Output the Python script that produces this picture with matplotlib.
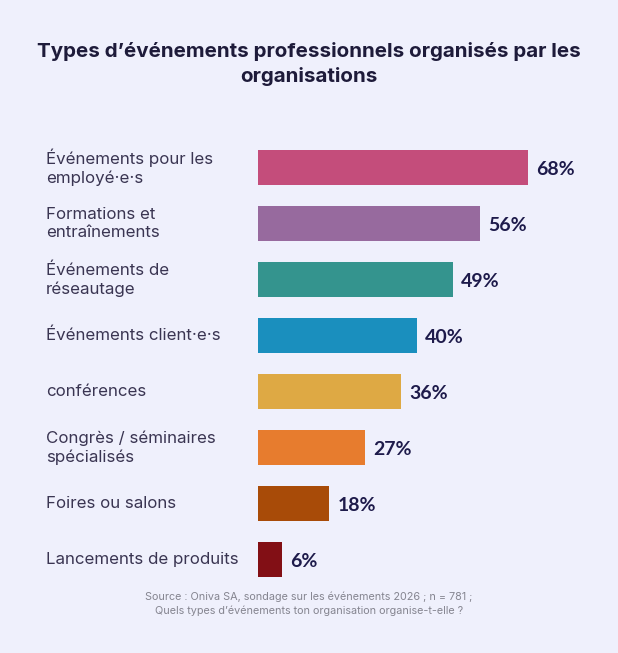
import matplotlib
matplotlib.use("Agg")
import matplotlib.pyplot as plt
from matplotlib.transforms import blended_transform_factory, offset_copy

categories = [
    "Événements pour les\nemployé·e·s",
    "Formations et\nentraînements",
    "Événements de\nréseautage",
    "Événements client·e·s",
    "conférences",
    "Congrès / séminaires\nspécialisés",
    "Foires ou salons",
    "Lancements de produits",
]
values = [68, 56, 49, 40, 36, 27, 18, 6]
value_labels = ["68%", "56%", "49%", "40%", "36%", "27%", "18%", "6%"]
colors = ["#C44D7B", "#976A9E", "#34948E", "#1A8FBE", "#DEA944", "#E77C2E", "#A84B08", "#820F15"]

title = "Types d’événements professionnels organisés par les\norganisations"
source = ("Source : Oniva SA, sondage sur les événements 2026 ; n = 781 ;\n"
          "Quels types d’événements ton organisation organise-t-elle ?")

bg = "#EFF0FC"
W, H = 618, 653
fig = plt.figure(figsize=(W / 100, H / 100), dpi=100, facecolor=bg)

left_px, right_px = 258, 258 + 80 * 3.97
top_px, bot_px = 139.5, 588
ax = fig.add_axes([left_px / W, 1 - bot_px / H, (right_px - left_px) / W, (bot_px - top_px) / H])
ax.set_facecolor(bg)
ax.patch.set_alpha(0)

ypos = list(range(len(categories)))
ax.barh(ypos, values, height=0.625, color=colors, edgecolor="none")
ax.set_xlim(0, 80)
ax.set_ylim(len(categories) - 0.5, -0.5)
ax.axis("off")

for y, v, lab in zip(ypos, values, value_labels):
    tr = offset_copy(ax.transData, fig=fig, x=8, y=-2, units="dots")
    ax.text(v, y, lab, transform=tr, ha="left", va="center",
            fontsize=14, fontweight="bold", color="#1E1B4B", family="Lato")

lab_tr = blended_transform_factory(fig.transFigure, ax.transData)
for y, c in zip(ypos, categories):
    ax.text(46 / W, y, c, transform=lab_tr, ha="left", va="center",
            fontsize=12.2, color="#3A3552", family="Inter", linespacing=1.3)

fig.text(0.5, 1 - 64 / H, title, ha="center", va="center", fontsize=14.8,
         fontweight="bold", color="#1E1B3A", family="Inter", linespacing=1.4)

fig.text(0.5, 1 - 604 / H, source, ha="center", va="center", fontsize=7.8,
         color="#858590", family="Inter", linespacing=1.4)

fig.savefig("out.png", dpi=100, facecolor=bg)
